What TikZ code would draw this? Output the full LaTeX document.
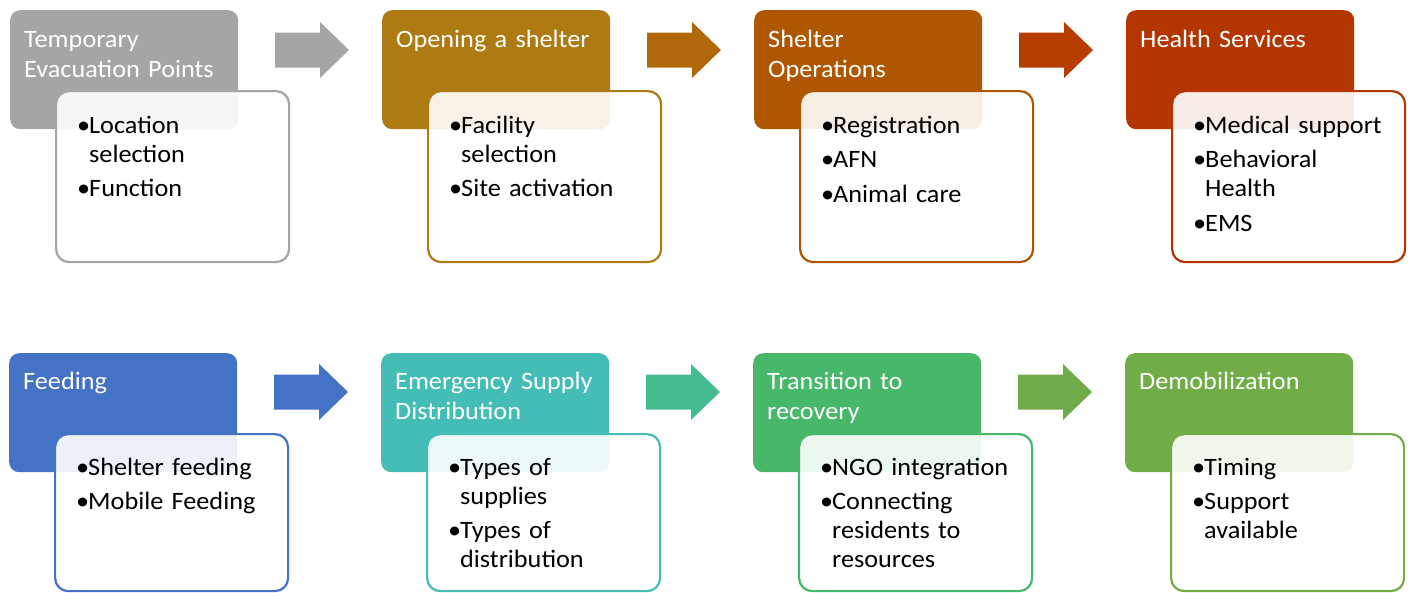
\documentclass[tikz,border=0pt]{standalone}
\usepackage{fontspec}
\setmainfont{Carlito}[FakeStretch=1.05]
% stage colours
\definecolor{cGray}{HTML}{A5A5A5}
\definecolor{cGold}{HTML}{AE7A12}
\definecolor{cRust}{HTML}{AF5700}
\definecolor{cBrick}{HTML}{B33600}
\definecolor{aGold}{HTML}{B0680A}
\definecolor{aBrick}{HTML}{B63C00}
\definecolor{cBlue}{HTML}{4472C4}
\definecolor{cTeal}{HTML}{45BDB7}
\definecolor{cMint}{HTML}{47B76A}
\definecolor{cLeaf}{HTML}{70AD47}
\definecolor{aSea}{HTML}{45BC8E}
\definecolor{aLeaf}{HTML}{6FAB48}
\newcommand\bul{\makebox[12pt][l]{•}}
\newcommand\cnt{\hspace*{12pt}}
% block arrow: left end x, centre y, colour
\newcommand\rarrow[3]{%
  \fill[#3] (#1,#2-17.5) -- (#1+45,#2-17.5) -- (#1+45,#2-28) -- (#1+74,#2)
    -- (#1+45,#2+28) -- (#1+45,#2+17.5) -- (#1,#2+17.5) -- cycle;}
\begin{document}
\begin{tikzpicture}[x=1pt,y=-1pt,
  headbox/.style={fill=#1, rounded corners=10pt, anchor=north west, inner sep=0pt,
    minimum width=228pt, minimum height=119pt},
  bodybox/.style={draw=#1, line width=2.2pt, fill=white, fill opacity=0.9,
    rounded corners=13pt, anchor=north west, inner sep=0pt,
    minimum width=233pt, minimum height=171pt},
  bodylow/.style={bodybox=#1, minimum height=157pt},
  headtext/.style={anchor=base west, text width=215pt, align=left, inner sep=0pt,
    text=white, font=\fontsize{25}{30}\selectfont},
  bodytext/.style={anchor=base west, text width=200pt, align=left, inner sep=0pt,
    text=black, font=\fontsize{25}{29}\selectfont}]
\useasboundingbox (0,0) rectangle (1408,592);

% ---------- first row ----------
\node[headbox=cGray]  (h1) at (10,10) {};
\node[headbox=cGold]  (h2) at (382,10) {};
\node[headbox=cRust]  (h3) at (754,10) {};
\node[headbox=cBrick] (h4) at (1126,10) {};
\node[headtext] (ht1) at (24,47)   {Temporary\\Evacuation Points};
\node[headtext] (ht2) at (396,47)  {Opening a shelter};
\node[headtext] (ht3) at (768,47)  {Shelter\\Operations};
\node[headtext] (ht4) at (1140,47) {Health Services};

\node[bodybox=cGray]  (b1) at (55,90) {};
\node[bodybox=cGold]  (b2) at (427,90) {};
\node[bodybox=cRust]  (b3) at (799,90) {};
\node[bodybox=cBrick] (b4) at (1171,90) {};
\node[bodytext] (bt1) at (77,133)   {\bul Location\\\cnt selection\\[5.5pt]\bul Function};
\node[bodytext] (bt2) at (449,133)  {\bul Facility\\\cnt selection\\[5.5pt]\bul Site activation};
\node[bodytext] (bt3) at (821,133)  {\bul Registration\\[5.5pt]\bul AFN\\[5.5pt]\bul Animal care};
\node[bodytext] (bt4) at (1193,133) {\bul Medical support\\[5.5pt]\bul Behavioral\\\cnt Health\\[5.5pt]\bul EMS};

\rarrow{275}{50}{cGray}
\rarrow{647}{50}{aGold}
\rarrow{1019}{50}{aBrick}

% ---------- second row ----------
\node[headbox=cBlue] (h5) at (9,353) {};
\node[headbox=cTeal] (h6) at (381,353) {};
\node[headbox=cMint] (h7) at (753,353) {};
\node[headbox=cLeaf] (h8) at (1125,353) {};
\node[headtext] (ht5) at (23,389)   {Feeding};
\node[headtext] (ht6) at (395,389)  {Emergency Supply\\Distribution};
\node[headtext] (ht7) at (767,389)  {Transition to\\recovery};
\node[headtext] (ht8) at (1139,389) {Demobilization};

\node[bodylow=cBlue] (b5) at (54,433) {};
\node[bodylow=cTeal] (b6) at (426,433) {};
\node[bodylow=cMint] (b7) at (798,433) {};
\node[bodylow=cLeaf] (b8) at (1170,433) {};
\node[bodytext] (bt5) at (76,475)   {\bul Shelter feeding\\[5.5pt]\bul Mobile Feeding};
\node[bodytext] (bt6) at (448,475)  {\bul Types of\\\cnt supplies\\[5.5pt]\bul Types of\\\cnt distribution};
\node[bodytext] (bt7) at (820,475)  {\bul NGO integration\\[5.5pt]\bul Connecting\\\cnt residents to\\\cnt resources};
\node[bodytext] (bt8) at (1192,475) {\bul Timing\\[5.5pt]\bul Support\\\cnt available};

\rarrow{274}{392}{cBlue}
\rarrow{646}{392}{aSea}
\rarrow{1018}{392}{aLeaf}
\end{tikzpicture}
\end{document}
